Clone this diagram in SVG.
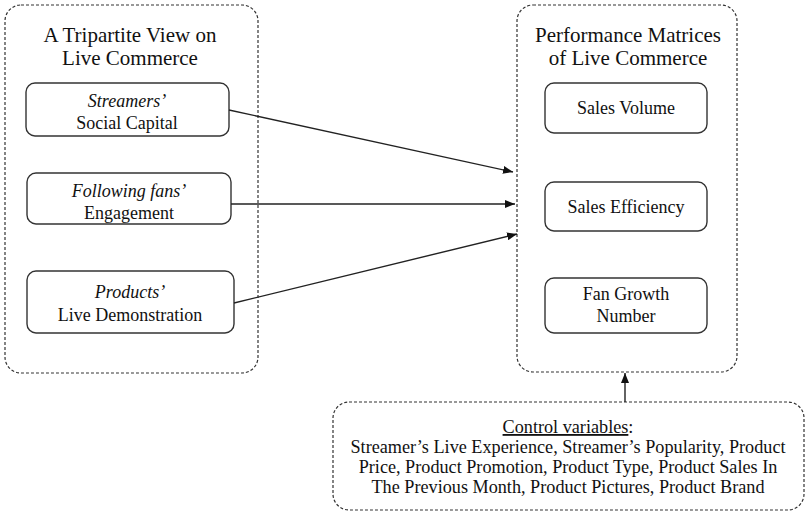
<svg xmlns="http://www.w3.org/2000/svg" width="806" height="513" viewBox="0 0 806 513">
<style>
.grp{fill:none;stroke:#333;stroke-width:1.2;stroke-dasharray:3 2}
.box{fill:#fff;stroke:#333;stroke-width:1.4}
text{font-family:'Liberation Serif','Times New Roman',serif;fill:#111;text-anchor:middle}
.t{font-size:21px}
.b{font-size:18px}
.c{font-size:18.2px}
.i{font-style:italic}
.edge{stroke:#222;stroke-width:1.4;fill:none;marker-end:url(#ah)}
</style>
<defs>
<marker id="ah" viewBox="0 0 10 8" refX="10" refY="4" markerWidth="10" markerHeight="8" markerUnits="userSpaceOnUse" orient="auto">
<path d="M0,0 L10,4 L0,8 Z" fill="#111"/>
</marker>
</defs>
<g id="left-group">
<rect class="grp" x="5" y="5" width="253" height="368" rx="16"/>
<text class="t" x="130" y="42">A Tripartite View on</text>
<text class="t" x="130" y="65">Live Commerce</text>
</g>
<g id="right-group">
<rect class="grp" x="517" y="5" width="220" height="367" rx="16"/>
<text class="t" x="628" y="42">Performance Matrices</text>
<text class="t" x="628" y="65">of Live Commerce</text>
</g>
<g id="streamers">
<rect class="box" x="26" y="83" width="203" height="53" rx="9"/>
<text class="b i" x="127" y="107">Streamers’</text>
<text class="b" x="127" y="129">Social Capital</text>
</g>
<g id="fans">
<rect class="box" x="27" y="173" width="204" height="51" rx="9"/>
<text class="b i" x="129" y="197">Following fans’</text>
<text class="b" x="129" y="219">Engagement</text>
</g>
<g id="products">
<rect class="box" x="27" y="271" width="207" height="62" rx="9"/>
<text class="b i" x="130" y="298">Products’</text>
<text class="b" x="130" y="321">Live Demonstration</text>
</g>
<g id="sales-volume">
<rect class="box" x="545" y="83" width="162" height="50" rx="9"/>
<text class="b" x="626" y="114">Sales Volume</text>
</g>
<g id="sales-efficiency">
<rect class="box" x="545" y="182" width="162" height="49" rx="9"/>
<text class="b" x="626" y="213">Sales Efficiency</text>
</g>
<g id="fan-growth">
<rect class="box" x="545" y="278" width="162" height="55" rx="9"/>
<text class="b" x="626" y="300">Fan Growth</text>
<text class="b" x="626" y="322">Number</text>
</g>
<g id="control">
<rect class="grp" x="333" y="402" width="471" height="108" rx="16"/>
<text class="c" x="568" y="433"><tspan text-decoration="underline">Control variables</tspan>:</text>
<text class="c" x="568" y="453">Streamer’s Live Experience, Streamer’s Popularity, Product</text>
<text class="c" x="568" y="473">Price, Product Promotion, Product Type, Product Sales In</text>
<text class="c" x="568" y="493">The Previous Month, Product Pictures, Product Brand</text>
</g>
<g id="connectors">
<line class="edge" x1="229" y1="110" x2="513" y2="172"/>
<line class="edge" x1="231" y1="204" x2="515" y2="204"/>
<line class="edge" x1="234" y1="303" x2="517" y2="234"/>
<line class="edge" x1="625" y1="402" x2="625" y2="373"/>
</g>
</svg>
